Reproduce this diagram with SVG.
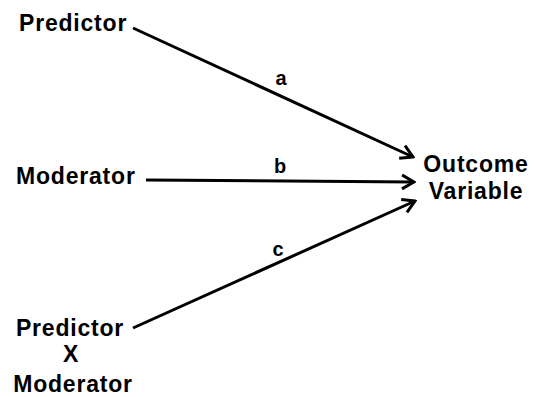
<svg xmlns="http://www.w3.org/2000/svg" width="534" height="397" viewBox="0 0 534 397">
<style>
.lbl{font-family:"Liberation Sans",Arial,sans-serif;font-weight:bold;font-size:23px;letter-spacing:0.8px;fill:#000}
.path{font-family:"Liberation Sans",Arial,sans-serif;font-weight:bold;font-size:20px;fill:#000}
.conn{stroke:#000;stroke-width:3;fill:none;marker-end:url(#arr)}
</style>
<defs>
<marker id="arr" markerUnits="userSpaceOnUse" viewBox="0 0 16 16" markerWidth="16" markerHeight="16" refX="14" refY="8" orient="auto">
<path d="M2,1 L14,8 L2,15" stroke="#000" stroke-width="3" fill="none" stroke-linejoin="miter"/>
</marker>
</defs>
<rect width="534" height="397" fill="#fff"/>
<g id="connectors">
<line class="conn" x1="133" y1="28" x2="413" y2="157"/>
<line class="conn" x1="146" y1="180" x2="414" y2="182"/>
<line class="conn" x1="133" y1="328" x2="415" y2="201"/>
<text class="path" x="281" y="85" text-anchor="middle">a</text>
<text class="path" x="280" y="173" text-anchor="middle">b</text>
<text class="path" x="278" y="256" text-anchor="middle">c</text>
</g>
<g id="predictor"><text class="lbl" x="19" y="31">Predictor</text></g>
<g id="moderator"><text class="lbl" x="16" y="184">Moderator</text></g>
<g id="interaction">
<text class="lbl" x="70" y="336" text-anchor="middle">Predictor</text>
<text class="lbl" x="71" y="362" text-anchor="middle">X</text>
<text class="lbl" x="73" y="392" text-anchor="middle">Moderator</text>
</g>
<g id="outcome">
<text class="lbl" x="476" y="172" text-anchor="middle">Outcome</text>
<text class="lbl" x="476" y="199" text-anchor="middle">Variable</text>
</g>
</svg>
